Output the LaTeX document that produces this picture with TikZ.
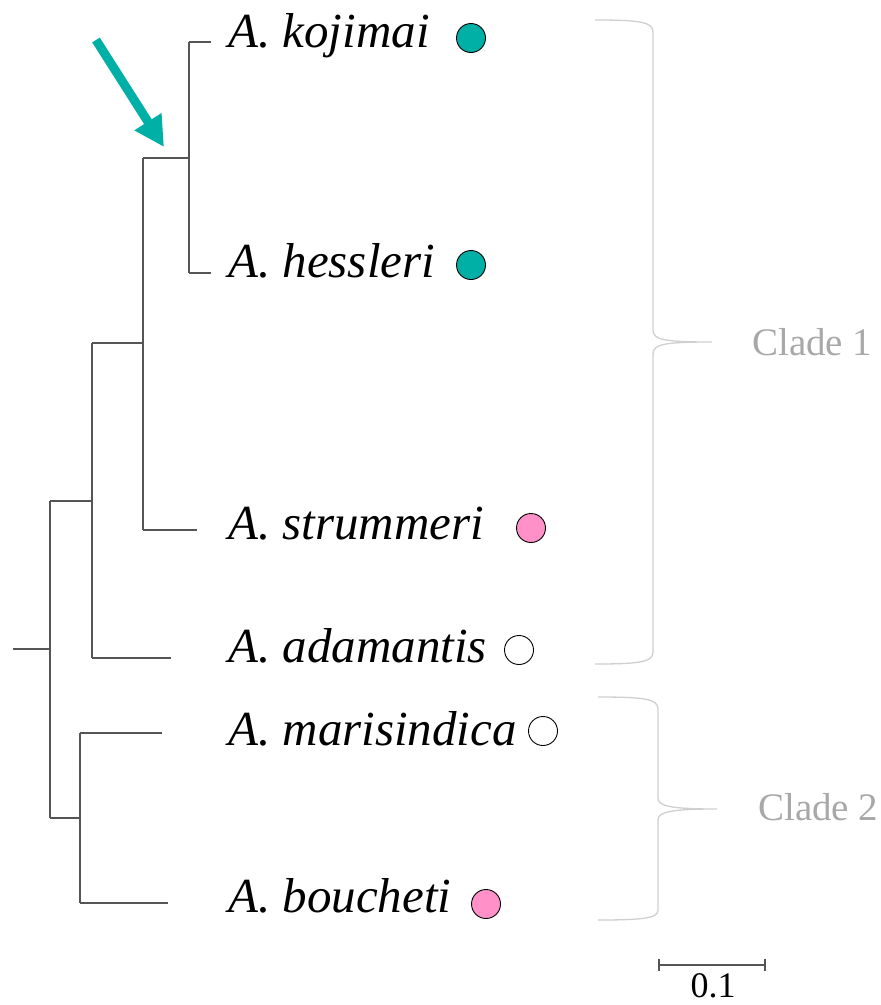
\documentclass[tikz,border=0pt]{standalone}
\usepackage{fontspec}
\setmainfont{Liberation Serif}
\usetikzlibrary{arrows.meta}
\definecolor{teal1}{HTML}{00B0A6}
\definecolor{pink1}{HTML}{FF90C8}
\definecolor{treegray}{HTML}{555555}
\definecolor{bracegray}{HTML}{CFCFCF}
\definecolor{cladegray}{HTML}{A8A8A8}
\begin{document}
\begin{tikzpicture}[x=1pt,y=-1pt,
  branch/.style={draw=treegray,line width=1.4pt},
  taxon/.style={anchor=base west,inner sep=0pt,font=\fontsize{49}{50}\selectfont\itshape},
  dot/.style={circle,draw=black,line width=0.9pt,minimum size=29pt,inner sep=0pt},
  cladebrace/.style={draw=bracegray,line width=1.3pt},
  cladelabel/.style={anchor=base west,inner sep=0pt,text=cladegray,font=\fontsize{39}{40}\selectfont},
  scalebar/.style={draw=treegray,line width=1.8pt}]
\useasboundingbox (0,0) rectangle (881,1005);

% taxon labels
\node[taxon] (koj) at (228,47) {A. kojimai};
\node[taxon] (hes) at (228,277) {A. hessleri};
\node[taxon] (str) at (228,539) {A. strummeri};
\node[taxon] (ada) at (228,662) {A. adamantis};
\node[taxon] (mar) at (228,745) {A. marisindica};
\node[taxon] (bou) at (228,912) {A. boucheti};

% state circles
\node[dot,fill=teal1] (ckoj) at (471,38) {};
\node[dot,fill=teal1] (ches) at (471,265) {};
\node[dot,fill=pink1] (cstr) at (531,528) {};
\node[dot,fill=white] (cada) at (519,650) {};
\node[dot,fill=white] (cmar) at (543,731) {};
\node[dot,fill=pink1] (cbou) at (486,904) {};

% tree coordinates
\coordinate (root0) at (13,649);
\coordinate (nA) at (50,649);
\coordinate (nAt) at (50,501);
\coordinate (nAb) at (50,818);
\coordinate (nB) at (92,501);
\coordinate (nBt) at (92,343);
\coordinate (nBb) at (92,658);
\coordinate (nC) at (143,343);
\coordinate (nCt) at (143,158);
\coordinate (nCb) at (143,530);
\coordinate (nD) at (189,158);
\coordinate (nDt) at (189,42);
\coordinate (nDb) at (189,273);
\coordinate (nE) at (80,818);
\coordinate (nEt) at (80,733);
\coordinate (nEb) at (80,903);
\coordinate (lkoj) at (211,42);
\coordinate (lhes) at (211,273);
\coordinate (lstr) at (197,530);
\coordinate (lada) at (171,658);
\coordinate (lmar) at (162,733);
\coordinate (lbou) at (168,903);

\draw[branch] (root0) -- (nA);
\draw[branch] (nAt) -- (nAb);
\draw[branch] (nAt) -- (nB);
\draw[branch] (nAb) -- (nE);
\draw[branch] (nBt) -- (nBb);
\draw[branch] (nBt) -- (nC);
\draw[branch] (nBb) -- (lada);
\draw[branch] (nCt) -- (nCb);
\draw[branch] (nCt) -- (nD);
\draw[branch] (nCb) -- (lstr);
\draw[branch] (nDt) -- (nDb);
\draw[branch] (nDt) -- (lkoj);
\draw[branch] (nDb) -- (lhes);
\draw[branch] (nEt) -- (nEb);
\draw[branch] (nEt) -- (lmar);
\draw[branch] (nEb) -- (lbou);

% arrow
\coordinate (arS) at (96,40);
\coordinate (arE) at (164,147);
\draw[teal1,line width=9pt,-{Triangle[length=30pt,width=30pt]}] (arS) -- (arE);

% braces
\draw[cladebrace] (595,20) .. controls (640,20) and (653,22) .. (653,32)
  -- (653,330) .. controls (653,340) and (665,342) .. (712,342)
  .. controls (665,342) and (653,344) .. (653,354)
  -- (653,652) .. controls (653,662) and (640,664) .. (595,664);
\draw[cladebrace] (598,697) .. controls (645,697) and (658,699) .. (658,709)
  -- (658,798) .. controls (658,806) and (670,809) .. (717,809)
  .. controls (670,809) and (658,812) .. (658,820)
  -- (658,910) .. controls (658,918) and (645,920) .. (598,920);
\node[cladelabel] (cl1) at (752,355) {Clade 1};
\node[cladelabel] (cl2) at (758,820) {Clade 2};

% scale bar
\coordinate (sbL) at (659,965);
\coordinate (sbR) at (765,965);
\draw[scalebar] (sbL) -- (sbR);
\draw[scalebar,line width=1.4pt] ([yshift=-6pt]sbL) -- ([yshift=6pt]sbL);
\draw[scalebar,line width=1.4pt] ([yshift=-6pt]sbR) -- ([yshift=6pt]sbR);
\node[anchor=base,inner sep=0pt,font=\fontsize{36}{37}\selectfont] (sbt) at (713,997) {0.1};
\end{tikzpicture}
\end{document}
